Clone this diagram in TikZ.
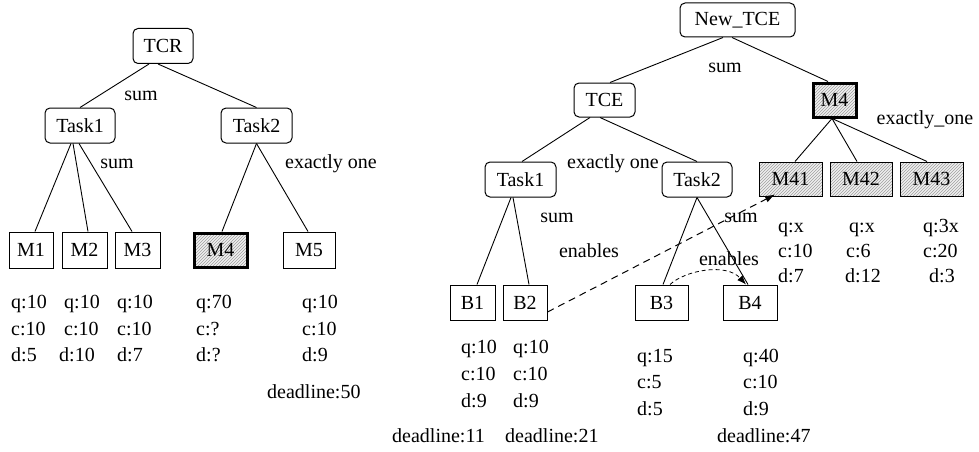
\documentclass[tikz,border=0pt]{standalone}
\usepackage{fontspec}
\setmainfont{Liberation Serif}
\usetikzlibrary{patterns,arrows.meta}
\tikzset{
  every node/.style={font=\fontsize{20}{24}\selectfont},
  rbox/.style={draw, line width=1pt, rounded corners=5pt, minimum height=35pt, inner sep=0pt},
  sbox/.style={draw, line width=1pt, minimum height=35pt, inner sep=0pt},
  hbox/.style={sbox, preaction={fill=gray!12}, pattern=north east lines, pattern color=gray!75},
  thickb/.style={line width=3pt},
  lbl/.style={inner sep=0pt, text height=14pt, text depth=4pt},
  info/.style={lbl, anchor=west},
  conn/.style={line width=0.9pt},
  enab/.style={line width=1pt, dash pattern=on 7pt off 5pt, -{Latex[length=10pt,width=7pt]}},
  enabs/.style={line width=0.8pt, dash pattern=on 4pt off 3pt, -{Latex[length=9pt,width=7pt]}},
}
\begin{document}
\begin{tikzpicture}[x=1pt,y=-1pt]
\useasboundingbox (0,0) rectangle (979,452);
% ---------- left tree ----------
\node[rbox, minimum width=60pt] (TCR) at (163,46) {TCR};
\node[rbox, minimum width=70pt] (T1L) at (80,125.5) {Task1};
\node[rbox, minimum width=71pt] (T2L) at (256.5,125.5) {Task2};
\node[sbox, minimum width=44pt, minimum height=36pt] (M1) at (31,250) {M1};
\node[sbox, minimum width=45pt, minimum height=36pt] (M2) at (84.5,250) {M2};
\node[sbox, minimum width=45pt, minimum height=36pt] (M3) at (137.5,250) {M3};
\node[hbox, thickb, minimum width=53pt, minimum height=34pt] (M4L) at (220.5,250) {M4};
\node[sbox, minimum width=52pt, minimum height=36pt] (M5) at (309,250) {M5};

\draw[conn] ([xshift=-14pt]TCR.south) -- (T1L.north);
\draw[conn] ([xshift=-5pt]TCR.south) -- (T2L.north);
\draw[conn] ([xshift=-9pt]T1L.south) -- ([xshift=4pt]M1.north);
\draw[conn] ([xshift=-7pt]T1L.south) -- ([xshift=3.5pt]M2.north);
\draw[conn] ([xshift=-1pt]T1L.south) -- ([xshift=-5.5pt]M3.north);
\draw[conn] (T2L.south) -- ([xshift=1.5pt]M4L.north);
\draw[conn] (T2L.south) -- ([xshift=-1pt]M5.north);

\node[lbl] (s1) at (141,95) {sum};
\node[lbl] (s2) at (117,163) {sum};
\node[lbl] (e1) at (331,163) {exactly one};

\node[info] (a1) at (11,303) {q:10};
\node[info] (a2) at (11,330) {c:10};
\node[info] (a3) at (11,356) {d:5};
\node[info] (b1) at (64,303) {q:10};
\node[info] (b2) at (64,330) {c:10};
\node[info] (b3) at (59,356) {d:10};
\node[info] (c1) at (117,303) {q:10};
\node[info] (c2) at (117,330) {c:10};
\node[info] (c3) at (117,356) {d:7};
\node[info] (d1) at (196,303) {q:70};
\node[info] (d2) at (196,330) {c:?};
\node[info] (d3) at (196,356) {d:?};
\node[info] (f1) at (302,303) {q:10};
\node[info] (f2) at (302,330) {c:10};
\node[info] (f3) at (302,356) {d:9};
\node[info] (dl50) at (267,393) {deadline:50};

% ---------- right tree ----------
\node[rbox, minimum width=115pt, minimum height=34pt] (NT) at (737.5,20) {New\_TCE};
\node[rbox, minimum width=61pt, minimum height=34pt] (TCE) at (604.5,100) {TCE};
\node[hbox, thickb, minimum width=43pt, minimum height=34pt] (M4R) at (834.5,100) {M4};
\node[rbox, minimum width=71pt] (T1R) at (520.5,179.5) {Task1};
\node[rbox, minimum width=70pt] (T2R) at (697,179.5) {Task2};
\node[hbox, minimum width=63pt, minimum height=34pt] (M41) at (790.5,179) {M41};
\node[hbox, minimum width=62pt, minimum height=34pt] (M42) at (861,179) {M42};
\node[hbox, minimum width=63pt, minimum height=34pt] (M43) at (931.5,179) {M43};
\node[sbox, minimum width=45pt] (B1) at (472.5,302.5) {B1};
\node[sbox, minimum width=44pt] (B2) at (525,302.5) {B2};
\node[sbox, minimum width=53pt] (B3) at (661.5,302.5) {B3};
\node[sbox, minimum width=54pt] (B4) at (750,302.5) {B4};

\draw[conn] ([xshift=-14.5pt]NT.south) -- ([xshift=5.5pt]TCE.north);
\draw[conn] ([xshift=-5.5pt]NT.south) -- ([xshift=-6.5pt]M4R.north);
\draw[conn] ([xshift=-14.5pt]TCE.south) -- ([xshift=1.5pt]T1R.north);
\draw[conn] ([xshift=-4.5pt]TCE.south) -- (T2R.north);
\draw[conn] ([xshift=-2.5pt]M4R.south) -- ([xshift=4.5pt]M41.north);
\draw[conn] ([xshift=-2.5pt]M4R.south) -- ([xshift=-4pt]M42.north);
\draw[conn] ([xshift=-2.5pt]M4R.south) -- ([xshift=-4.5pt]M43.north);
\draw[conn] ([xshift=-9.5pt]T1R.south) -- ([xshift=4.5pt]B1.north);
\draw[conn] ([xshift=-7.5pt]T1R.south) -- ([xshift=4pt]B2.north);
\draw[conn] (T2R.south) -- ([xshift=1.5pt]B3.north);
\draw[conn] (T2R.south) -- ([xshift=-2pt]B4.north);

\draw[enab] ([yshift=-9.5pt]B2.east) -- ([xshift=-15.5pt,yshift=2pt]M41.south);
\draw[enabs] ([xshift=8.5pt]B3.north) .. controls +(15,-14) and +(-20,-22) .. ([xshift=-4pt]B4.north);

\node[lbl] (s3) at (725,67) {sum};
\node[lbl] (e2) at (925,119) {exactly\_one};
\node[lbl] (e3) at (613,163) {exactly one};
\node[lbl] (s4) at (557,217) {sum};
\node[lbl] (s5) at (741,217) {sum};
\node[lbl] (en1) at (589,252) {enables};
\node[lbl] (en2) at (729,260) {enables};

\node[info] (g1) at (778,227) {q:x};
\node[info] (g2) at (778,252) {c:10};
\node[info] (g3) at (778,277) {d:7};
\node[info] (h1) at (849,227) {q:x};
\node[info] (h2) at (846,252) {c:6};
\node[info] (h3) at (845,277) {d:12};
\node[info] (i1) at (923,227) {q:3x};
\node[info] (i2) at (923,252) {c:20};
\node[info] (i3) at (929,277) {d:3};

\node[info] (j1) at (461,348) {q:10};
\node[info] (j2) at (461,375) {c:10};
\node[info] (j3) at (461,402) {d:9};
\node[info] (k1) at (513,348) {q:10};
\node[info] (k2) at (513,375) {c:10};
\node[info] (k3) at (513,402) {d:9};
\node[info] (dl11) at (392,437) {deadline:11};
\node[info] (dl21) at (505,437) {deadline:21};
\node[info] (l1) at (637,357) {q:15};
\node[info] (l2) at (637,383) {c:5};
\node[info] (l3) at (637,410) {d:5};
\node[info] (m1) at (743,357) {q:40};
\node[info] (m2) at (743,383) {c:10};
\node[info] (m3) at (743,410) {d:9};
\node[info] (dl47) at (717,437) {deadline:47};
\end{tikzpicture}
\end{document}
